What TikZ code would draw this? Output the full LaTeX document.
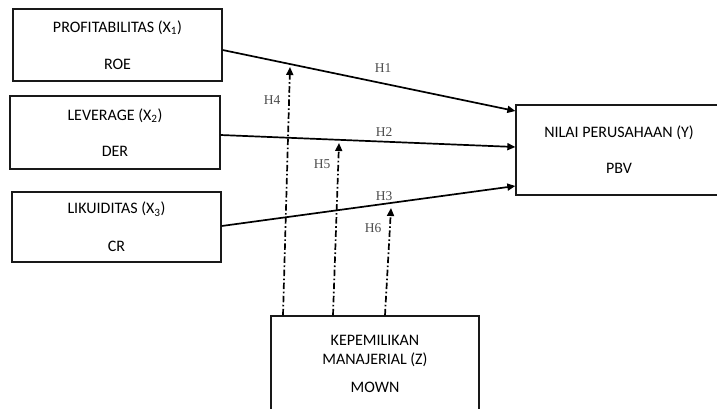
\documentclass[tikz,border=0pt]{standalone}
\usepackage{fontspec}
\setmainfont{Carlito}
\newfontfamily\hfont{Liberation Serif}
\usetikzlibrary{arrows.meta,calc}
\begin{document}
\begin{tikzpicture}[x=1pt,y=-1pt,
  varbox/.style={draw=black!90,line width=1.3pt,rectangle,inner sep=0pt,align=center,font=\fontsize{16}{19}\selectfont,text=black},
  solidarrow/.style={line width=1.7pt,-{Triangle[length=8pt,width=7pt]}},
  modarrow/.style={line width=1.7pt,dash pattern=on 6.5pt off 2.5pt on 1.6pt off 2.5pt,-{Triangle[length=8pt,width=7pt]}},
  hlab/.style={font=\hfont\fontsize{13.5}{15}\selectfont,text=black!70,inner sep=0pt}]
\useasboundingbox (0,0) rectangle (717,408);
\node[varbox,minimum width=209pt,minimum height=72pt] (X1) at (117.5,45) {PROFITABILITAS (X\textsubscript{1})\\[18pt]ROE};
\node[varbox,minimum width=210pt,minimum height=73pt] (X2) at (115,132.5) {LEVERAGE (X\textsubscript{2})\\[17pt]DER};
\node[varbox,minimum width=209pt,minimum height=70pt] (X3) at (116.5,227) {LIKUIDITAS (X\textsubscript{3})\\[19pt]CR};
\node[varbox,minimum width=206pt,minimum height=90pt] (Y) at (619,150) {NILAI PERUSAHAAN (Y)\\[17pt]PBV};
\node[varbox,minimum width=208pt,minimum height=96pt] (Z) at (375,364) {KEPEMILIKAN\\MANAJERIAL (Z)\\[9pt]MOWN};
\draw[solidarrow] ([yshift=-5pt]X1.east) -- ([yshift=39pt]Y.west);
\draw[solidarrow] ([yshift=-2.5pt]X2.east) -- ([yshift=3pt]Y.west);
\draw[solidarrow] ([yshift=1pt]X3.east) -- ([yshift=-36pt]Y.west);
\coordinate (t4) at (290,67);
\coordinate (t5) at (339,143);
\coordinate (t6) at (391,208);
\draw[modarrow] ([xshift=-92pt]Z.north) -- (t4);
\draw[modarrow] ([xshift=-42pt]Z.north) -- (t5);
\draw[modarrow] ([xshift=10pt]Z.north) -- (t6);
\node[hlab] (h1) at (383,68) {H1};
\node[hlab] (h2) at (384,132) {H2};
\node[hlab] (h3) at (384,196) {H3};
\node[hlab] (h4) at (272,100) {H4};
\node[hlab] (h5) at (322,164) {H5};
\node[hlab] (h6) at (373,228) {H6};
\end{tikzpicture}
\end{document}
